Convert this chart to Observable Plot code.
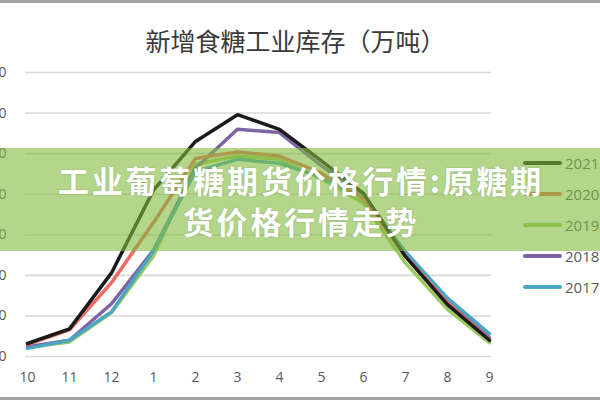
<!DOCTYPE html>
<html>
<head>
<meta charset="utf-8">
<script src="https://cdn.jsdelivr.net/npm/d3@7"></script>
<script src="https://cdn.jsdelivr.net/npm/@observablehq/plot@0.6"></script>
<style>
  body { margin: 0; background: #fff; }
  #wrap { position: relative; width: 600px; height: 400px; overflow: hidden; background: #fff; }
  #chart svg { display: block; }
  .bar { position: absolute; left: 0; width: 600px; background: #a4a4a4; }
  #legend { position: absolute; left: 523px; top: 147px; font-family: "Open Sans", sans-serif; font-size: 15px; color: #595959; }
  .item { display: flex; align-items: center; height: 31px; white-space: nowrap; }
  .sw { display: inline-block; width: 39px; height: 4px; border-radius: 2px; margin-right: 3px; }
  #banner { position: absolute; left: 0; top: 148px; width: 600px; height: 103px;
    background: rgba(128, 186, 62, 0.6); display: flex; flex-direction: column;
    align-items: center; justify-content: center; color: #fff;
    font-family: "Noto Sans CJK SC", sans-serif; font-weight: 700; font-size: 31px;
    line-height: 41px; letter-spacing: 2.8px; padding-left: 2px; box-sizing: border-box;
    text-shadow: 0 0 2px rgba(0,0,0,0.2); }
</style>
</head>
<body>
<div id="wrap">
  <div id="chart"></div>
  <div id="legend"></div>
  <div id="banner"><div>工业葡萄糖期货价格行情:原糖期</div><div>货价格行情走势</div></div>
  <div class="bar" style="top:0;height:3px"></div>
  <div class="bar" style="top:397px;height:3px"></div>
</div>
<script>
const title = "新增食糖工业库存（万吨）";
const months = ["10", "11", "12", "1", "2", "3", "4", "5", "6", "7", "8", "9"];
const years = ["2021", "2020", "2019", "2018", "2017"];
const colors = ["#1b1b1b", "#ee6a63", "#9bcb5e", "#7f63a3", "#4aa7c4"];
const yTicks = [0, 50, 100, 150, 200, 250, 300, 350];

const v2021 = [16, 34, 103, 205, 265, 298, 280, 241, 201, 123, 64, 20];
const v2020 = [15, 33, 91, 165, 244, 252, 247, 226, 194, 124, 66, 21];
const v2019 = [11, 18, 54, 124, 237, 247, 243, 219, 189, 115, 58, 17];
const v2018 = [12, 20, 65, 131, 232, 280, 276, 235, 199, 128, 70, 23];
const v2017 = [10, 20, 55, 130, 228, 243, 238, 221, 196, 129, 72, 28];

const seriesByYear = { "2021": v2021, "2020": v2020, "2019": v2019, "2018": v2018, "2017": v2017 };
const drawOrder = ["2019", "2018", "2017", "2020", "2021"];
const rows = drawOrder.flatMap(yr => months.map((m, i) => ({ year: yr, month: m, value: seriesByYear[yr][i] })));

const chart = Plot.plot({
  width: 600,
  height: 400,
  marginLeft: 25,
  marginRight: 109,
  marginTop: 72,
  marginBottom: 44,
  style: { fontFamily: "'Open Sans', sans-serif", fontSize: "14px", color: "#595959", background: "transparent", overflow: "visible" },
  x: { type: "point", domain: months, padding: 0, label: null },
  y: { domain: [0, 350], label: null },
  color: { domain: years, range: colors },
  marks: [
    Plot.ruleY(yTicks, { stroke: "#d9d9d9", strokeWidth: 1.6 }),
    Plot.axisY({ ticks: yTicks, tickSize: 0, tickPadding: 19, label: null, fill: "#595959" }),
    Plot.axisX({ tickSize: 0, tickPadding: 16, label: null, fill: "#595959" }),
    Plot.line(rows, { x: "month", y: "value", z: "year", stroke: "year", strokeWidth: 3.5 }),
    Plot.text([title], { frameAnchor: "top", dx: 37, dy: -39, fontSize: 25, fill: "#3a3a3a",
      fontFamily: "'Noto Sans CJK SC', sans-serif" })
  ]
});
document.getElementById("chart").appendChild(chart);

const legend = document.getElementById("legend");
years.forEach((yr, i) => {
  const item = document.createElement("div");
  item.className = "item";
  const sw = document.createElement("span");
  sw.className = "sw";
  sw.style.background = colors[i];
  item.appendChild(sw);
  item.appendChild(document.createTextNode(yr));
  legend.appendChild(item);
});
</script>
</body>
</html>
